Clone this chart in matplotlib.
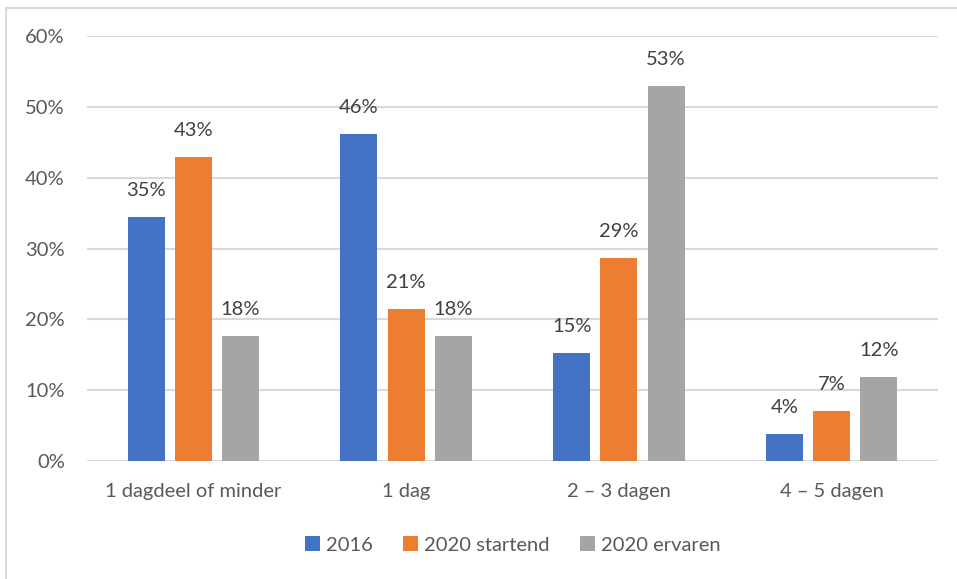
import matplotlib.pyplot as plt
import numpy as np
from matplotlib.patches import Rectangle

categories = ["1 dagdeel of minder", "1 dag", "2 \u2013 3 dagen", "4 \u2013 5 dagen"]
series_names = ["2016", "2020 startend", "2020 ervaren"]
v2016 = [34.5, 46.1, 15.3, 3.8]
v2020_startend = [42.9, 21.4, 28.6, 7.1]
v2020_ervaren = [17.6, 17.6, 52.9, 11.8]
labels_2016 = ["35%", "46%", "15%", "4%"]
labels_startend = ["43%", "21%", "29%", "7%"]
labels_ervaren = ["18%", "18%", "53%", "12%"]
yticks = [0, 10, 20, 30, 40, 50, 60]

colors = ["#4472C4", "#ED7D31", "#A5A5A5"]
plt.rcParams['font.family'] = ['Lato', 'DejaVu Sans']

W, H = 957, 579
fig = plt.figure(figsize=(W / 100, H / 100), dpi=100)
ax = fig.add_axes([87 / W, 1 - 461 / H, (938 - 87) / W, (461 - 36) / H])

# chart frame (cut off at right/bottom like the screenshot)
fig.patches.append(Rectangle((6 / W, -0.1), 1.2, 1 - 8 / H + 0.1,
                             transform=fig.transFigure, fill=False,
                             edgecolor="#D9D9D9", linewidth=1.5))

x = np.arange(len(categories))
bw = 0.174
step = 0.222
all_vals = [v2016, v2020_startend, v2020_ervaren]
all_labels = [labels_2016, labels_startend, labels_ervaren]
for i, (vals, labs) in enumerate(zip(all_vals, all_labels)):
    xs = x + (i - 1) * step
    ax.bar(xs, vals, width=bw, color=colors[i], label=series_names[i], zorder=3)
    for xx, v, t in zip(xs, vals, labs):
        ax.annotate(t, (xx, v), xytext=(0, 13), textcoords="offset points",
                    ha="center", va="bottom", fontsize=14.5, color="#404040")

ax.set_xlim(-0.5, 3.5)
ax.set_ylim(0, 60)
ax.set_yticks(yticks)
ax.set_yticklabels([f"{t}%" for t in yticks])
ax.set_xticks(x)
ax.set_xticklabels(categories)
ax.tick_params(axis="both", length=0, labelsize=14.5, labelcolor="#595959")
ax.tick_params(axis="y", pad=16)
ax.tick_params(axis="x", pad=16)
ax.grid(axis="y", color="#D9D9D9", linewidth=1.5, zorder=0)
for s in ax.spines.values():
    s.set_visible(False)

ax.legend(loc="center", bbox_to_anchor=(0.5, (461 - 545) / (461 - 36)),
          ncol=3, frameon=False, fontsize=14.5, labelcolor="#595959",
          handlelength=0.75, handleheight=0.75, handletextpad=0.3,
          columnspacing=1.5)

fig.savefig("out.png", dpi=100)
